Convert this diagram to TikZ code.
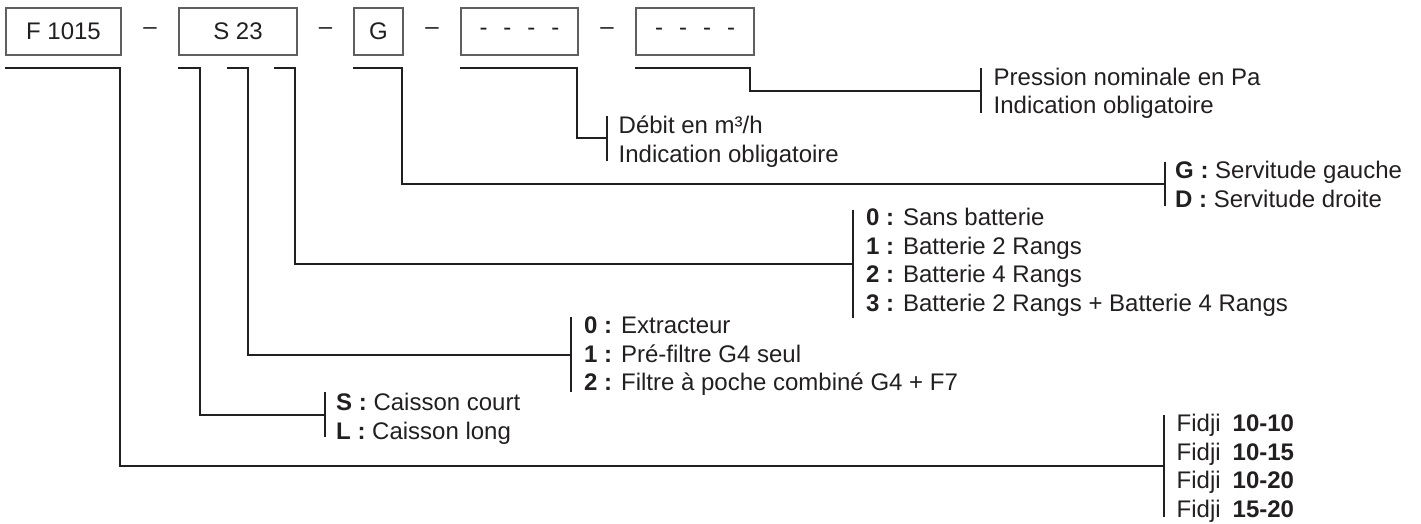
\documentclass[tikz,border=0pt]{standalone}
\usepackage{fontspec}
\setmainfont{Liberation Sans}
\definecolor{ink}{RGB}{35,31,32}
\definecolor{frame}{RGB}{95,95,95}
\newcommand{\blank}{-\hspace{16pt}-\hspace{16pt}-\hspace{16pt}-}

\begin{document}
\begin{tikzpicture}[x=1pt,y=-1pt,
    every node/.style={font=\fontsize{24}{28.5}\selectfont,text=ink},
    box/.style={draw=frame,line width=1.2pt,minimum height=47pt,inner sep=0pt},
    lbl/.style={anchor=base west,align=left,inner sep=0pt},
    link/.style={draw=ink,line width=2pt}]

    \useasboundingbox (0,0) rectangle (1421,524);

    % Code boxes
    \node[box,minimum width=115pt] (f) at (63.5,31.5) {F 1015};
    \node[box,minimum width=118pt] (s) at (238,31.5) {S 23};
    \node[box,minimum width=49pt]  (g) at (378.5,31.5) {G};
    \node[box,minimum width=117pt] (q) at (519.5,31.5) {\blank};
    \node[box,minimum width=118pt] (p) at (695,31.5) {\blank};

    % Separators
    \path (f.east) -- node {–} (s.west);
    \path (s.east) -- node {–} (g.west);
    \path (g.east) -- node {–} (q.west);
    \path (q.east) -- node {–} (p.west);

    % Labels (placed on the baseline of their last line)
    \node[lbl] (pn) at (993.5,114) {Pression nominale en Pa\\Indication obligatoire};
    \node[lbl] (deb) at (618.5,162) {Débit en m³/h\\Indication obligatoire};
    \node[lbl] (gd) at (1175,207) {\textbf{G :} Servitude gauche\\\textbf{D :} Servitude droite};
    \node[lbl] (bat) at (866,311) {\textbf{0 :} Sans batterie\\\textbf{1 :} Batterie 2 Rangs\\
        \textbf{2 :} Batterie 4 Rangs\\\textbf{3 :} Batterie 2 Rangs + Batterie 4 Rangs};
    \node[lbl] (fil) at (584,390.5) {\textbf{0 :} Extracteur\\\textbf{1 :} Pré-filtre G4 seul\\
        \textbf{2 :} Filtre à poche combiné G4 + F7};
    \node[lbl] (cai) at (336,439) {\textbf{S :} Caisson court\\\textbf{L :} Caisson long};
    \node[lbl] (fid) at (1176.5,517) {Fidji\hspace{0.5em}\textbf{10-10}\\Fidji\hspace{0.5em}\textbf{10-15}\\
        Fidji\hspace{0.5em}\textbf{10-20}\\Fidji\hspace{0.5em}\textbf{15-20}};

    % Bars
    \coordinate (pnbar) at (981,90.75);
    \coordinate (debbar) at (607,138.5);
    \coordinate (gdbar) at (1165,184);
    \coordinate (batbar) at (853,264);
    \coordinate (filbar) at (571,354.5);
    \coordinate (caibar) at (325,414.5);
    \coordinate (fidbar) at (1164,466);

    \draw[link] (pnbar) ++(0,-22.25) -- ++(0,44.5);
    \draw[link] (debbar) ++(0,-22.5) -- ++(0,45);
    \draw[link] (gdbar) ++(0,-22) -- ++(0,44);
    \draw[link] (batbar) ++(0,-54) -- ++(0,108);
    \draw[link] (filbar) ++(0,-37.5) -- ++(0,75);
    \draw[link] (caibar) ++(0,-22.5) -- ++(0,45);
    \draw[link] (fidbar) ++(0,-51) -- ++(0,102);

    % Brackets
    \draw[link] (p.south west) ++(0,12) -- ++(115,0) |- (pnbar);
    \draw[link] (q.south west) ++(0,12) -- ++(117,0) |- (debbar);
    \draw[link] (g.south west) ++(0,12) -- ++(49,0) |- (gdbar);
    \draw[link] (s.south west) ++(96,12) -- ++(21,0) |- (batbar);
    \draw[link] (s.south west) ++(49,12) -- ++(21,0) |- (filbar);
    \draw[link] (s.south west) ++(0,12) -- ++(22,0) |- (caibar);
    \draw[link] (f.south west) ++(0,12) -- ++(115,0) |- (fidbar);

\end{tikzpicture}
\end{document}
